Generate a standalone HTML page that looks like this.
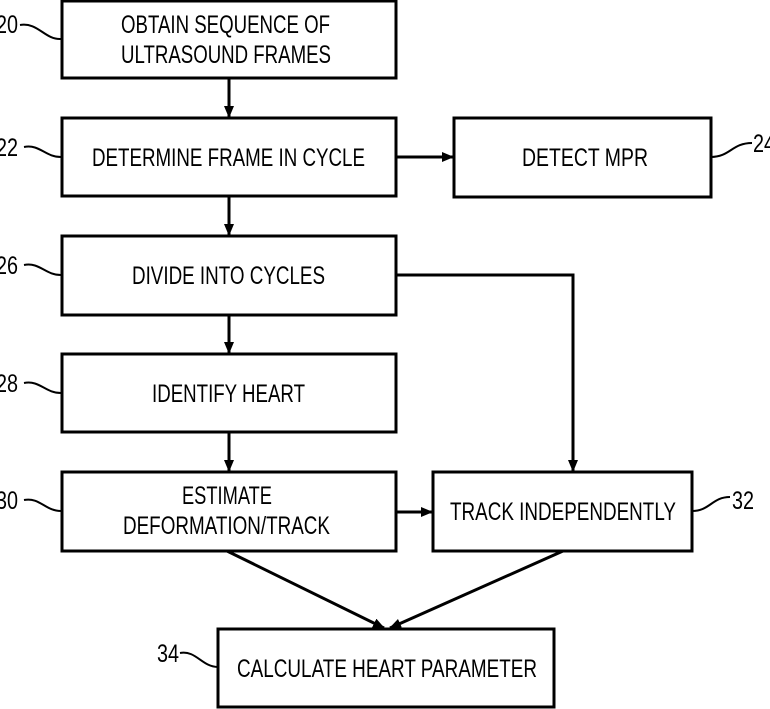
<!DOCTYPE html>
<html><head><meta charset="utf-8"><style>
html,body{margin:0;padding:0;background:#fff;width:770px;height:709px;overflow:hidden}
svg text{font-family:"Liberation Sans",sans-serif;font-size:25px;fill:#000}
</style></head><body>
<svg width="770" height="709" viewBox="0 0 770 709" xmlns="http://www.w3.org/2000/svg">
<defs><marker id="a" markerWidth="12" markerHeight="10" refX="11" refY="5" orient="auto" markerUnits="userSpaceOnUse"><path d="M0,0 L12,5 L0,10 Z" fill="#000"/></marker></defs>
<g fill="none" stroke="#000" stroke-width="3">
<rect x="62" y="1" width="334" height="77"/>
<rect x="62" y="118" width="334" height="78"/>
<rect x="454" y="118" width="257" height="79"/>
<rect x="62" y="236" width="334" height="79"/>
<rect x="62" y="354" width="334" height="78"/>
<rect x="62" y="472" width="334" height="79"/>
<rect x="433" y="472" width="259" height="79"/>
<rect x="218" y="629" width="336" height="78"/>
</g>
<g stroke="#000" stroke-width="3" fill="none" marker-end="url(#a)">
<line x1="229" y1="78" x2="229" y2="117"/>
<line x1="396" y1="157" x2="453" y2="157"/>
<line x1="229" y1="196" x2="229" y2="235"/>
<line x1="229" y1="315" x2="229" y2="353"/>
<line x1="229" y1="432" x2="229" y2="471"/>
<polyline points="396,275 573,275 573,471"/>
<line x1="396" y1="512" x2="432" y2="512"/>
<line x1="227" y1="551" x2="384" y2="628"/>
<line x1="563" y1="551" x2="390" y2="628"/>
</g>
<g stroke="#000" stroke-width="2" fill="none">
<path d="M20,25 C38,22 45,40 61,39"/>
<path d="M24,147 C40,144 45,157 61,157"/>
<path d="M24,265 C40,262 45,275 61,275"/>
<path d="M24,383 C40,380 45,393 61,393"/>
<path d="M24,500 C40,497 45,511 61,511"/>
<path d="M692,511 C710,511 712,497 730,497"/>
<path d="M711,157 C730,157 732,143 752,143"/>
<path d="M180,653 C196,650 202,667 218,667"/>
</g>
<text x="121" y="33" textLength="209" lengthAdjust="spacingAndGlyphs">OBTAIN SEQUENCE OF</text>
<text x="121" y="63" textLength="210" lengthAdjust="spacingAndGlyphs">ULTRASOUND FRAMES</text>
<text x="92" y="166" textLength="273" lengthAdjust="spacingAndGlyphs">DETERMINE FRAME IN CYCLE</text>
<text x="522" y="166" textLength="126" lengthAdjust="spacingAndGlyphs">DETECT MPR</text>
<text x="132" y="284" textLength="193" lengthAdjust="spacingAndGlyphs">DIVIDE INTO CYCLES</text>
<text x="152" y="402" textLength="153" lengthAdjust="spacingAndGlyphs">IDENTIFY HEART</text>
<text x="182" y="504" textLength="90" lengthAdjust="spacingAndGlyphs">ESTIMATE</text>
<text x="123" y="534" textLength="207" lengthAdjust="spacingAndGlyphs">DEFORMATION/TRACK</text>
<text x="450" y="520" textLength="226" lengthAdjust="spacingAndGlyphs">TRACK INDEPENDENTLY</text>
<text x="237" y="677" textLength="300" lengthAdjust="spacingAndGlyphs">CALCULATE HEART PARAMETER</text>
<text x="-4" y="33" textLength="22" lengthAdjust="spacingAndGlyphs">20</text>
<text x="-4" y="156" textLength="22" lengthAdjust="spacingAndGlyphs">22</text>
<text x="-4" y="274" textLength="22" lengthAdjust="spacingAndGlyphs">26</text>
<text x="-4" y="392" textLength="22" lengthAdjust="spacingAndGlyphs">28</text>
<text x="-4" y="509" textLength="22" lengthAdjust="spacingAndGlyphs">30</text>
<text x="732" y="509" textLength="22" lengthAdjust="spacingAndGlyphs">32</text>
<text x="753" y="152" textLength="22" lengthAdjust="spacingAndGlyphs">24</text>
<text x="157" y="662" textLength="22" lengthAdjust="spacingAndGlyphs">34</text>
</svg>
</body></html>
